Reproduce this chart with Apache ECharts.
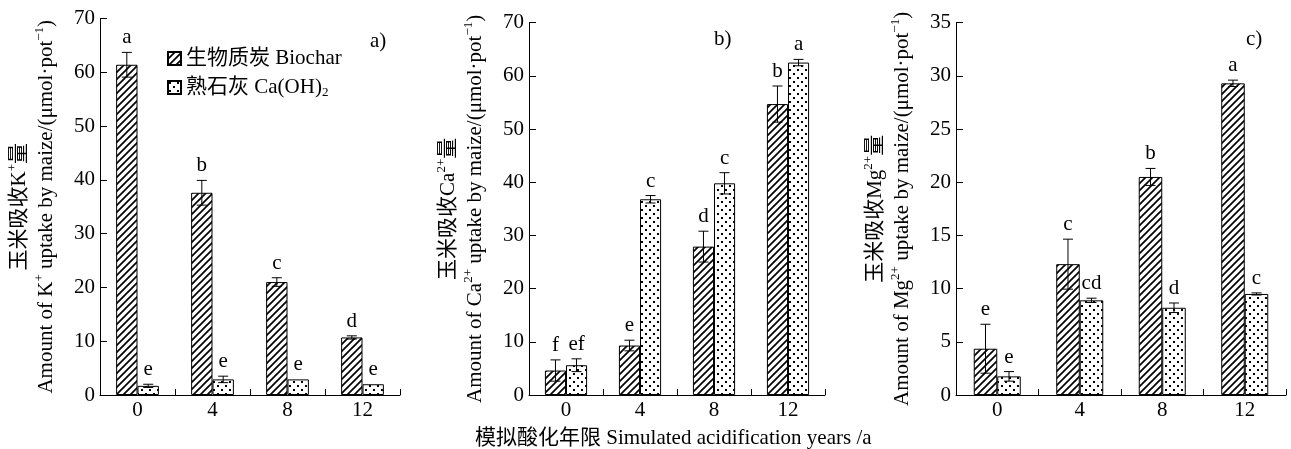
<!DOCTYPE html>
<html>
<head>
<meta charset="utf-8">
<script src="https://cdn.jsdelivr.net/npm/echarts@6/dist/echarts.min.js"></script>
<style>
html, body { margin: 0; padding: 0; background: #fff; }
#chart { width: 1291px; height: 449px; }
</style>
</head>
<body>
<div id="chart"></div>
<script>
// 模拟酸化年限
const years = ['0', '4', '8', '12'];

// a) K+
const kBiochar = [61.4, 37.6, 21.0, 10.7];
const kBiocharErr = [2.3, 2.3, 0.8, 0.3];
const kBiocharSig = ['a', 'b', 'c', 'd'];
const kLime = [1.7, 2.9, 2.9, 2.0];
const kLimeErr = [0.3, 0.6, 0, 0];
const kLimeSig = ['e', 'e', 'e', 'e'];

// b) Ca2+
const caBiochar = [4.6, 9.3, 27.9, 54.7];
const caBiocharErr = [2.0, 1.0, 2.9, 3.4];
const caBiocharSig = ['f', 'e', 'd', 'b'];
const caLime = [5.6, 36.8, 39.8, 62.5];
const caLimeErr = [1.2, 0.7, 2.0, 0.6];
const caLimeSig = ['ef', 'c', 'c', 'a'];

// c) Mg2+
const mgBiochar = [4.35, 12.3, 20.5, 29.3];
const mgBiocharErr = [2.3, 2.35, 0.8, 0.3];
const mgBiocharSig = ['e', 'c', 'b', 'a'];
const mgLime = [1.75, 8.9, 8.2, 9.5];
const mgLimeErr = [0.45, 0.2, 0.45, 0.1];
const mgLimeSig = ['e', 'cd', 'd', 'c'];

const yTicksA = { max: 70, interval: 10 };
const yTicksB = { max: 70, interval: 10 };
const yTicksC = { max: 35, interval: 5 };

const FONT = "'Liberation Serif', 'Noto Sans CJK SC', serif";
const FS = 21;
const NAME_BIO = '生物质炭 Biochar';
const NAME_LIME = '熟石灰 Ca(OH)2';

function hatchPattern() {
  const c = document.createElement('canvas');
  c.width = 7; c.height = 7;
  const g = c.getContext('2d');
  g.fillStyle = '#fff';
  g.fillRect(0, 0, 7, 7);
  g.strokeStyle = '#000';
  g.lineWidth = 1.7;
  g.beginPath();
  g.moveTo(-1, 8); g.lineTo(8, -1);
  g.moveTo(-1, 1); g.lineTo(1, -1);
  g.moveTo(6, 8); g.lineTo(8, 6);
  g.stroke();
  return c;
}

function dotPattern() {
  const c = document.createElement('canvas');
  c.width = 8; c.height = 8;
  const g = c.getContext('2d');
  g.fillStyle = '#fff';
  g.fillRect(0, 0, 8, 8);
  g.fillStyle = '#000';
  g.fillRect(1, 1, 2, 2);
  g.fillRect(5, 5, 2, 2);
  return c;
}

const hatch = { image: hatchPattern(), repeat: 'repeat' };
const dots = { image: dotPattern(), repeat: 'repeat' };

const GAP = 0.43;

function barSeries(name, idx, vals, fill) {
  return {
    name: name,
    type: 'bar',
    xAxisIndex: idx,
    yAxisIndex: idx,
    data: vals,
    barGap: '0%',
    barCategoryGap: (GAP * 100) + '%',
    itemStyle: { color: fill, borderColor: '#000', borderWidth: 1 },
    emphasis: { disabled: true },
    z: 2
  };
}

// error bar + significance letter, side -1 = left bar, +1 = right bar
function errSeries(idx, vals, errs, sig, side) {
  return {
    type: 'custom',
    xAxisIndex: idx,
    yAxisIndex: idx,
    data: vals.map((v, i) => [i, v, errs[i]]),
    z: 5,
    renderItem: function (params, api) {
      const i = api.value(0), v = api.value(1), e = api.value(2);
      const band = api.size([1, 0])[0];
      const bw = band * (1 - GAP) / 2;
      const x = api.coord([i, v])[0] + side * bw / 2;
      const top = api.coord([i, v + e])[1];
      const bot = api.coord([i, v - e])[1];
      const cap = 5;
      const ls = { stroke: '#000', lineWidth: 1 };
      const children = [];
      if (e > 0) {
        children.push({ type: 'line', shape: { x1: x, y1: top, x2: x, y2: bot }, style: ls });
        children.push({ type: 'line', shape: { x1: x - cap, y1: top, x2: x + cap, y2: top }, style: ls });
        children.push({ type: 'line', shape: { x1: x - cap, y1: bot, x2: x + cap, y2: bot }, style: ls });
      }
      children.push({
        type: 'text',
        style: {
          text: sig[params.dataIndex], x: x, y: top - 4,
          align: 'center', verticalAlign: 'bottom',
          font: FS + 'px ' + FONT, fill: '#000'
        }
      });
      return { type: 'group', children: children };
    }
  };
}

const richName = {
  c: { fontSize: FS, lineHeight: 27, fontFamily: FONT, color: '#000' },
  cs: { fontSize: 13, lineHeight: 14, verticalAlign: 'top', fontFamily: FONT, color: '#000' },
  e: { fontSize: FS, lineHeight: 27, fontFamily: FONT, color: '#000' },
  es: { fontSize: 13, lineHeight: 14, verticalAlign: 'top', fontFamily: FONT, color: '#000' }
};

function yName(ion, charge) {
  return '{c|玉米吸收' + ion + '}{cs|' + charge + '}{c|量}\n' +
    '{e|Amount of ' + ion + '}{es|' + charge + '}{e| uptake by maize/(μmol·pot}{es|−1}{e|)}';
}

const grids = [
  { left: 100, top: 18.5, width: 300, height: 376.5 },
  { left: 529, top: 22.7, width: 296, height: 372.3 },
  { left: 956, top: 22.7, width: 330, height: 372.3 }
];
const yTicks = [yTicksA, yTicksB, yTicksC];
const yNames = [yName('K', '+'), yName('Ca', '2+'), yName('Mg', '2+')];

const axisLine = { show: true, lineStyle: { color: '#000', width: 1 } };

const xAxes = grids.map((g, i) => ({
  type: 'category',
  gridIndex: i,
  data: years,
  axisLine: axisLine,
  axisTick: { show: true, inside: true, length: 6, lineStyle: { color: '#000' } },
  axisLabel: { fontSize: FS, fontFamily: FONT, color: '#000', margin: 5 },
  splitLine: { show: false }
}));

const yAxes = grids.map((g, i) => ({
  type: 'value',
  gridIndex: i,
  min: 0,
  max: yTicks[i].max,
  interval: yTicks[i].interval,
  axisLine: axisLine,
  axisTick: { show: true, inside: true, length: 7, lineStyle: { color: '#000' } },
  axisLabel: { fontSize: FS, fontFamily: FONT, color: '#000', margin: 5 },
  splitLine: { show: false },
  name: yNames[i],
  nameLocation: 'middle',
  nameGap: 40,
  nameTextStyle: { rich: richName }
}));

const series = [
  barSeries(NAME_BIO, 0, kBiochar, hatch),
  barSeries(NAME_LIME, 0, kLime, dots),
  barSeries(NAME_BIO, 1, caBiochar, hatch),
  barSeries(NAME_LIME, 1, caLime, dots),
  barSeries(NAME_BIO, 2, mgBiochar, hatch),
  barSeries(NAME_LIME, 2, mgLime, dots),
  errSeries(0, kBiochar, kBiocharErr, kBiocharSig, -1),
  errSeries(0, kLime, kLimeErr, kLimeSig, 1),
  errSeries(1, caBiochar, caBiocharErr, caBiocharSig, -1),
  errSeries(1, caLime, caLimeErr, caLimeSig, 1),
  errSeries(2, mgBiochar, mgBiocharErr, mgBiocharSig, -1),
  errSeries(2, mgLime, mgLimeErr, mgLimeSig, 1)
];

const chart = echarts.init(document.getElementById('chart'), null, { renderer: 'canvas' });
chart.setOption({
  animation: false,
  backgroundColor: '#fff',
  grid: grids,
  xAxis: xAxes,
  yAxis: yAxes,
  legend: {
    data: [NAME_BIO, NAME_LIME],
    orient: 'vertical',
    left: 162,
    top: 43,
    itemWidth: 13,
    itemHeight: 13,
    itemGap: 8,
    selectedMode: false,
    icon: 'rect',
    textStyle: {
      fontSize: FS,
      fontFamily: FONT,
      color: '#000',
      rich: {
        t: { fontSize: FS, lineHeight: 24, fontFamily: FONT, color: '#000' },
        s: { fontSize: 13, lineHeight: 12, verticalAlign: 'bottom', fontFamily: FONT, color: '#000' }
      }
    },
    formatter: function (name) {
      if (name === NAME_LIME) return '{t|熟石灰 Ca(OH)}{s|2}';
      return '{t|' + name + '}';
    }
  },
  graphic: [
    { type: 'text', left: 370, top: 31, style: { text: 'a)', font: FS + 'px ' + FONT, fill: '#000' } },
    { type: 'text', left: 714, top: 29, style: { text: 'b)', font: FS + 'px ' + FONT, fill: '#000' } },
    { type: 'text', left: 1246, top: 29, style: { text: 'c)', font: FS + 'px ' + FONT, fill: '#000' } },
    { type: 'text', left: 475, top: 428, style: { text: '模拟酸化年限 Simulated acidification years /a', font: FS + 'px ' + FONT, fill: '#000' } }
  ],
  series: series
});
</script>
</body>
</html>
